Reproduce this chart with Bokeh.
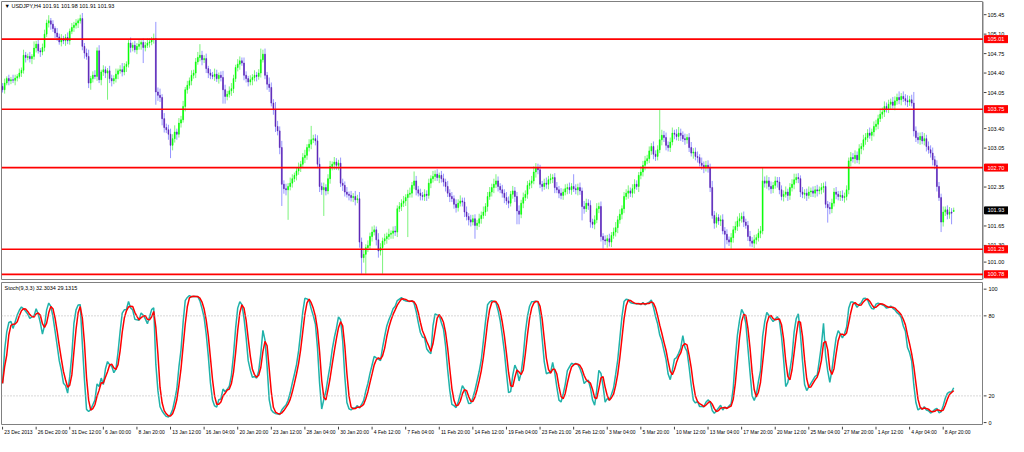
from bokeh.plotting import figure
from bokeh.layouts import column, row
from bokeh.models import ColumnDataSource, Span, Label, Range1d
from bokeh.core.properties import value
from bokeh.embed import file_html
from bokeh.resources import INLINE

# ---------------- data ----------------
symbol_header = "\u25BC USDJPY,H4  101.91 101.98 101.91 101.93"
stoch_header = "Stoch(9,3,3) 32.3034 29.1315"

first_open = 104.16
last_open = 101.91

closes = [
    104.10, 104.22, 104.30, 104.26, 104.28, 104.27, 104.31, 104.34, 104.40, 104.45,
    104.72, 104.68, 104.70, 104.66, 104.70, 104.85, 104.92, 104.80, 104.78, 104.86,
    105.10, 105.30, 105.34, 105.28, 105.20, 105.12, 105.05, 104.96, 105.02, 104.98,
    105.04, 104.98, 105.15, 105.22, 105.26, 105.30, 105.34, 105.38, 104.88, 104.76,
    104.70, 104.22, 104.30, 104.36, 104.34, 104.80, 104.28, 104.42, 104.46, 104.40,
    104.44, 104.30, 104.26, 104.30, 104.38, 104.44, 104.46, 104.42, 104.52, 104.56,
    104.94, 104.86, 104.90, 104.82, 104.88, 104.92, 104.95, 104.86, 104.90, 104.94,
    104.96, 105.00, 105.02, 104.06, 104.00, 103.96, 103.58, 103.42, 103.38, 103.30,
    103.10, 103.22, 103.34, 103.30, 103.50, 103.56, 103.80, 104.10, 104.18, 104.26,
    104.36, 104.40, 104.60, 104.68, 104.72, 104.64, 104.66, 104.48, 104.40, 104.36,
    104.34, 104.38, 104.30, 104.36, 104.32, 104.10, 103.98, 104.02, 104.08, 104.12,
    104.30, 104.50, 104.56, 104.62, 104.58, 104.36, 104.30, 104.24, 104.28, 104.32,
    104.36, 104.34, 104.40, 104.64, 104.74, 104.36, 104.20, 104.14, 103.86, 103.74,
    103.44, 103.36, 103.06, 102.40, 102.32, 102.30, 102.36, 102.42, 102.50, 102.56,
    102.64, 102.70, 102.76, 102.88, 102.92, 103.06, 103.12, 103.20, 103.22, 103.18,
    102.76, 102.36, 102.30, 102.34, 102.28, 102.50, 102.72, 102.76, 102.80, 102.74,
    102.78, 102.42, 102.38, 102.26, 102.22, 102.20, 102.16, 102.18, 102.12, 102.14,
    101.36, 101.08, 101.14, 101.26, 101.30, 101.46, 101.54, 101.58, 101.40, 101.20,
    101.26, 101.38, 101.42, 101.46, 101.50, 101.52, 101.56, 101.54, 101.96, 102.00,
    102.06, 102.10, 102.16, 102.22, 102.24, 102.38, 102.46, 102.30, 102.24, 102.20,
    102.18, 102.22, 102.20, 102.42, 102.50, 102.54, 102.58, 102.52, 102.56, 102.50,
    102.44, 102.36, 102.24, 102.18, 102.14, 102.04, 101.98, 102.06, 102.10, 102.08,
    101.90, 101.82, 101.76, 101.72, 101.78, 101.66, 101.70, 101.78, 101.84, 101.90,
    102.00, 102.18, 102.26, 102.34, 102.40, 102.46, 102.36, 102.30, 102.24, 102.16,
    102.10, 102.06, 102.22, 102.28, 102.18, 101.92, 101.86, 102.06, 102.16, 102.22,
    102.38, 102.42, 102.46, 102.62, 102.70, 102.66, 102.40, 102.36, 102.42, 102.40,
    102.48, 102.50, 102.52, 102.34, 102.30, 102.24, 102.20, 102.26, 102.32, 102.34,
    102.30, 102.36, 102.32, 102.30, 102.34, 102.28, 102.00, 101.96, 102.06, 102.02,
    101.72, 101.68, 101.76, 101.96, 102.00, 101.46, 101.40, 101.38, 101.42, 101.36,
    101.48, 101.54, 101.62, 101.76, 101.86, 101.96, 102.18, 102.24, 102.28, 102.24,
    102.32, 102.40, 102.36, 102.56, 102.62, 102.74, 102.82, 102.86, 103.00, 103.08,
    102.94, 102.90, 103.02, 103.20, 103.28, 103.24, 103.10, 103.06, 103.16, 103.32,
    103.30, 103.26, 103.32, 103.28, 103.22, 103.20, 103.24, 103.06, 102.96, 102.98,
    102.90, 102.88, 102.78, 102.74, 102.70, 102.74, 102.70, 102.34, 101.84, 101.70,
    101.80, 101.74, 101.76, 101.56, 101.50, 101.40, 101.36, 101.44, 101.58, 101.64,
    101.74, 101.78, 101.82, 101.72, 101.66, 101.46, 101.38, 101.34, 101.40, 101.44,
    101.52, 101.56, 102.46, 102.42, 102.46, 102.36, 102.32, 102.38, 102.46, 102.44,
    102.30, 102.18, 102.22, 102.26, 102.20, 102.34, 102.40, 102.48, 102.52, 102.50,
    102.26, 102.22, 102.24, 102.20, 102.26, 102.28, 102.24, 102.30, 102.28, 102.30,
    102.34, 102.36, 102.04, 101.98, 101.96, 102.06, 102.26, 102.22, 102.18, 102.20,
    102.16, 102.18, 102.30, 102.82, 102.88, 102.86, 102.92, 102.84, 103.04, 103.08,
    103.20, 103.24, 103.32, 103.28, 103.34, 103.44, 103.48, 103.58, 103.66, 103.70,
    103.80, 103.76, 103.84, 103.88, 103.82, 103.90, 103.96, 103.92, 103.98, 103.94,
    103.90, 103.88, 103.92, 103.86, 103.36, 103.24, 103.20, 103.26, 103.18, 103.22,
    103.08, 103.02, 102.96, 102.84, 102.74, 102.36, 102.16, 101.72, 101.90, 101.94,
    101.86, 101.90, 101.88, 101.93,
]

# upper / lower shadow lengths in pips (0.01 JPY)
wick_up = [
    6, 8, 4, 7, 5, 9, 6, 4, 8, 5,  10, 6, 5, 8, 4, 12, 6, 9, 5, 7,
    8, 6, 10, 5, 7, 4, 9, 6, 8, 5,  6, 9, 5, 8, 6, 7, 4, 7, 10, 6,
    8, 12, 5, 7, 9, 6, 10, 4, 8, 6,  5, 9, 7, 6, 10, 4, 8, 12, 6, 5,
    7, 10, 5, 8, 6, 9, 4, 7, 6, 8,  6, 5, 9, 30, 8, 12, 6, 10, 7, 9,
    10, 8, 12, 6, 9, 7, 10, 5, 8, 6,  9, 6, 7, 10, 20, 8, 6, 9, 5, 7,
    6, 10, 8, 5, 7, 12, 9, 6, 8, 10,  7, 5, 9, 8, 6, 10, 7, 5, 8, 6,
    9, 6, 7, 20, 8, 10, 6, 12, 9, 7,  14, 10, 8, 12, 7, 9, 6, 10, 8, 5,
    7, 9, 6, 8, 10, 6, 9, 25, 7, 8,  10, 12, 7, 9, 6, 8, 10, 5, 9, 7,
    6, 10, 8, 7, 9, 5, 8, 6, 10, 7,  12, 8, 10, 6, 9, 7, 10, 8, 6, 12,
    8, 6, 9, 7, 10, 5, 8, 9, 6, 8,  7, 9, 6, 8, 10, 6, 17, 9, 7, 8,
    6, 9, 7, 8, 6, 10, 7, 9, 5, 8,  9, 6, 10, 7, 8, 6, 9, 7, 10, 6,
    8, 10, 6, 9, 7, 8, 6, 9, 7, 10,  6, 8, 9, 7, 10, 12, 8, 6, 9, 7,
    10, 8, 6, 9, 7, 8, 10, 6, 9, 7,  8, 6, 9, 10, 8, 7, 9, 6, 8, 10,
    7, 9, 6, 8, 10, 7, 9, 6, 8, 7,  9, 6, 22, 8, 7, 9, 6, 10, 8, 7,
    9, 6, 8, 10, 7, 9, 6, 8, 7, 9,  6, 8, 10, 7, 9, 6, 8, 7, 10, 6,
    8, 9, 7, 6, 10, 8, 9, 7, 8, 6,  9, 7, 8, 54, 10, 8, 9, 7, 8, 10,
    6, 9, 11, 8, 7, 9, 6, 8, 10, 7,  8, 9, 6, 10, 7, 8, 9, 7, 12, 8,
    9, 6, 8, 10, 7, 9, 6, 8, 7, 9,  8, 10, 7, 9, 6, 8, 10, 7, 9, 6,
    8, 9, 24, 8, 10, 7, 9, 6, 8, 7,  9, 8, 7, 10, 6, 8, 9, 11, 7, 8,
    6, 9, 7, 8, 10, 6, 8, 7, 9, 6,  8, 7, 9, 6, 10, 8, 7, 9, 6, 8,
    9, 7, 8, 6, 10, 8, 9, 7, 8, 6,  9, 8, 7, 10, 6, 9, 8, 7, 10, 8,
    9, 7, 8, 6, 9, 8, 7, 11, 6, 9,  8, 10, 7, 9, 20, 8, 9, 7, 8, 10,
    7, 9, 8, 10, 7, 9, 8, 7, 10, 6,  8, 9, 7, 5,
]
wick_dn = [
    5, 7, 4, 8, 6, 5, 9, 6, 4, 7,  6, 9, 5, 7, 10, 6, 8, 5, 9, 6,
    7, 5, 8, 10, 6, 9, 7, 5, 8, 6,  9, 6, 7, 5, 8, 6, 9, 5, 7, 10,
    6, 9, 12, 7, 5, 8, 6, 10, 7, 9,  48, 8, 10, 6, 7, 9, 5, 8, 6, 10,
    6, 9, 7, 5, 8, 6, 10, 28, 7, 5,  8, 6, 7, 23, 10, 8, 12, 9, 6, 10,
    23, 9, 7, 10, 6, 8, 5, 9, 7, 6,  8, 6, 9, 5, 7, 10, 6, 8, 9, 7,
    5, 8, 6, 9, 7, 25, 13, 7, 6, 9,  8, 6, 7, 10, 5, 9, 7, 8, 6, 10,
    7, 9, 6, 8, 5, 7, 10, 8, 6, 9,  10, 8, 12, 39, 9, 10, 54, 7, 8, 6,
    9, 7, 8, 6, 10, 8, 7, 9, 6, 8,  7, 10, 9, 47, 8, 6, 9, 7, 10, 8,
    9, 7, 10, 8, 6, 9, 7, 8, 10, 6,  10, 29, 9, 35, 8, 7, 9, 6, 10, 12,
    8, 47, 7, 9, 6, 8, 10, 7, 9, 6,  8, 7, 9, 71, 6, 8, 7, 10, 6, 9,
    7, 8, 10, 6, 9, 7, 8, 6, 10, 7,  8, 9, 7, 10, 6, 8, 9, 7, 6, 8,
    9, 7, 10, 8, 6, 24, 8, 7, 9, 6,  7, 9, 6, 8, 10, 7, 9, 6, 8, 10,
    7, 9, 6, 8, 10, 24, 18, 7, 9, 6,  8, 7, 9, 6, 10, 8, 7, 9, 6, 8,
    9, 7, 8, 10, 6, 9, 7, 8, 6, 10,  7, 9, 6, 8, 10, 7, 25, 9, 6, 8,
    10, 7, 9, 6, 8, 9, 16, 7, 12, 8,  9, 6, 8, 10, 7, 9, 8, 6, 10, 7,
    8, 9, 6, 10, 7, 8, 9, 6, 8, 7,  9, 8, 7, 6, 10, 8, 9, 7, 8, 6,
    9, 7, 8, 10, 6, 9, 7, 8, 6, 10,  7, 9, 6, 8, 10, 7, 9, 8, 6, 10,
    8, 7, 9, 6, 26, 8, 7, 12, 9, 6,  8, 10, 7, 9, 6, 8, 10, 7, 9, 8,
    7, 9, 6, 8, 10, 7, 9, 8, 6, 10,  8, 7, 9, 6, 10, 8, 7, 9, 6, 8,
    9, 7, 8, 10, 6, 9, 7, 8, 10, 6,  8, 9, 7, 27, 10, 8, 6, 9, 7, 8,
    6, 9, 7, 8, 10, 7, 9, 6, 8, 10,  7, 9, 8, 6, 10, 8, 7, 9, 6, 8,
    9, 7, 8, 10, 6, 9, 7, 8, 10, 6,  8, 9, 7, 6, 10, 8, 7, 9, 6, 8,
    9, 7, 8, 10, 7, 9, 6, 18, 8, 7,  9, 8, 20, 0,
]

levels = [105.01, 103.75, 102.70, 101.23, 100.78]
current_price = 101.93
price_ticks = [105.45, 105.10, 104.75, 104.40, 104.05, 103.40, 103.05,
               102.35, 101.65, 101.30, 101.00]
stoch_ticks = [0, 20, 80, 100]
stoch_levels = [20, 80]
date_labels = ["23 Dec 2013", "26 Dec 20:00", "31 Dec 12:00", "6 Jan 00:00",
               "8 Jan 20:00", "13 Jan 12:00", "16 Jan 04:00", "20 Jan 20:00",
               "23 Jan 12:00", "28 Jan 04:00", "30 Jan 20:00", "4 Feb 12:00",
               "7 Feb 04:00", "11 Feb 20:00", "14 Feb 12:00", "19 Feb 04:00",
               "23 Feb 21:00", "26 Feb 12:00", "3 Mar 04:00", "5 Mar 20:00",
               "10 Mar 12:00", "13 Mar 04:00", "17 Mar 20:00", "20 Mar 12:00",
               "25 Mar 04:00", "27 Mar 20:00", "1 Apr 12:00", "4 Apr 04:00",
               "8 Apr 20:00"]
bars_per_label = 16

# ---------------- derived OHLC + stochastic ----------------
n = min(len(closes), len(wick_up), len(wick_dn))
closes = closes[:n]
opens = [first_open] + closes[:-1]
opens[-1] = last_open
highs = [max(opens[i], closes[i]) + wick_up[i] / 100 for i in range(n)]
lows = [min(opens[i], closes[i]) - wick_dn[i] / 100 for i in range(n)]
xs = list(range(n))

def cds(idx):
    return ColumnDataSource(dict(
        x=[xs[i] for i in idx],
        top=[max(opens[i], closes[i]) for i in idx],
        bottom=[min(opens[i], closes[i]) for i in idx],
        high=[highs[i] for i in idx],
        low=[lows[i] for i in idx]))

up_idx = [i for i in range(n) if closes[i] >= opens[i]]
dn_idx = [i for i in range(n) if closes[i] < opens[i]]
up_src, dn_src = cds(up_idx), cds(dn_idx)

K, SLOW, D = 9, 3, 3
main_line = []
for i in range(n):
    num = den = 0.0
    for j in range(max(0, i - SLOW + 1), i + 1):
        lo = min(lows[max(0, j - K + 1):j + 1])
        hi = max(highs[max(0, j - K + 1):j + 1])
        num += closes[j] - lo
        den += hi - lo
    main_line.append(100 * num / den if den > 0 else 50.0)
signal_line = []
for i in range(n):
    w = main_line[max(0, i - D + 1):i + 1]
    signal_line.append(sum(w) / len(w))
stoch_src = ColumnDataSource(dict(x=xs, main=main_line, signal=signal_line))

# ---------------- layout constants ----------------
FONT = "Liberation Sans"
FS = "5.5px"
FS_DATE = "5px"
FW = 982          # plot-area width
AW = 25           # price-scale strip width
MAIN_H = 278
STOCH_H = 143
DATE_H = 11
X0 = -0.5
X1 = X0 + 999 / 2.136
xr = Range1d(X0, X1)
px_x = (X1 - X0) / FW

P_LO, P_HI = 100.687, 105.687
S_LO, S_HI = -2.2, 105.0
py = (P_HI - P_LO) / MAIN_H
sy = (S_HI - S_LO) / STOCH_H
main_yr = Range1d(P_LO, P_HI)
stoch_yr = Range1d(S_LO, S_HI)

def base(**kw):
    f = figure(output_backend="svg", toolbar_location=None,
               x_axis_location=None, y_axis_location=None, **kw)
    f.grid.visible = False
    f.background_fill_color = "white"
    f.border_fill_color = "white"
    return f

# main price panel
p = base(frame_width=FW, frame_height=MAIN_H, x_range=xr, y_range=main_yr,
         min_border_left=1, min_border_right=0, min_border_top=1, min_border_bottom=1)
p.outline_line_color = "#808080"

# price-scale strip (shares the price scale)
pr = base(frame_width=AW, frame_height=MAIN_H, x_range=Range1d(0, AW), y_range=main_yr,
          min_border_left=0, min_border_right=0, min_border_top=1, min_border_bottom=1)
pr.outline_line_color = None

# stochastic panel
s = base(frame_width=FW, frame_height=STOCH_H, x_range=xr, y_range=stoch_yr,
         min_border_left=1, min_border_right=0, min_border_top=2, min_border_bottom=0)
s.outline_line_color = "#808080"

sr = base(frame_width=AW, frame_height=STOCH_H, x_range=Range1d(0, AW), y_range=stoch_yr,
          min_border_left=0, min_border_right=0, min_border_top=2, min_border_bottom=0)
sr.outline_line_color = None

# date strip (shares the bar scale)
d = base(frame_width=FW, frame_height=DATE_H, x_range=xr, y_range=Range1d(0, DATE_H),
         min_border_left=1, min_border_right=0, min_border_top=0, min_border_bottom=0)
d.outline_line_color = None
dpad = base(frame_width=AW, frame_height=DATE_H, x_range=Range1d(0, AW),
            y_range=Range1d(0, DATE_H), min_border_left=0, min_border_right=0,
            min_border_top=0, min_border_bottom=0)
dpad.outline_line_color = None

# ---------------- candles ----------------
BULL, BULL_W = "#00ff00", "#44ee44"
BEAR, BEAR_W = "#5a22b4", "#6a6aff"
p.segment(x0="x", y0="low", x1="x", y1="high", source=up_src, line_color=BULL_W,
          line_width=1, line_alpha=0.7)
p.segment(x0="x", y0="low", x1="x", y1="high", source=dn_src, line_color=BEAR_W,
          line_width=1, line_alpha=0.7)
p.vbar(x="x", width=0.4, top="top", bottom="bottom", source=up_src,
       fill_color=BULL, line_color=BULL, line_width=0.6)
p.vbar(x="x", width=0.4, top="top", bottom="bottom", source=dn_src,
       fill_color=BEAR, line_color=BEAR, line_width=0.6)

for lv in levels:
    p.add_layout(Span(location=lv, dimension="width", line_color="#ff0000",
                      line_width=1.6))
p.add_layout(Label(x=X0 + 3 * px_x, y=P_HI - 1.5 * py, text=symbol_header,
                   text_align="left", text_baseline="top", text_color="black",
                   text_font=FONT, text_font_size=FS))

# ---------------- price scale ----------------
TICK_LEN = 3
pt_src = ColumnDataSource(dict(y=price_ticks, txt=[f"{t:.2f}" for t in price_ticks]))
pr.segment(x0=0, y0="y", x1=TICK_LEN, y1="y", source=pt_src, line_color="#404040",
           line_width=1)
pr.text(x=TICK_LEN + 1, y="y", text="txt", source=pt_src, text_align="left",
        text_baseline="middle", text_color="black", text_font=value(FONT),
        text_font_size=value(FS))

tag_h = 7 * py
tag_src = ColumnDataSource(dict(
    y=levels + [current_price],
    top=[v + tag_h / 2 for v in levels + [current_price]],
    bottom=[v - tag_h / 2 for v in levels + [current_price]],
    color=["#ff0000"] * len(levels) + ["#000000"],
    txt=[f"{v:.2f}" for v in levels + [current_price]]))
pr.quad(left=1, right=AW, top="top", bottom="bottom", source=tag_src,
        fill_color="color", line_color="color")
pr.text(x=TICK_LEN + 1, y="y", text="txt", source=tag_src, text_align="left",
        text_baseline="middle", text_color="white", text_font=value(FONT),
        text_font_size=value(FS))
pr.segment(x0=0, y0=P_LO, x1=0, y1=P_HI, line_color="#808080", line_width=1)

# ---------------- stochastic ----------------
for lv in stoch_levels:
    s.add_layout(Span(location=lv, dimension="width", line_color="#b0b0b0",
                      line_width=1, line_dash="1 2"))
s.line(x="x", y="main", source=stoch_src, line_color="#20b2aa", line_width=1.5)
s.line(x="x", y="signal", source=stoch_src, line_color="#ff0000", line_width=1.5)
s.add_layout(Label(x=X0 + 3 * px_x, y=S_HI - 2.5 * sy, text=stoch_header,
                   text_align="left", text_baseline="top", text_color="black",
                   text_font=FONT, text_font_size=FS))

st_src = ColumnDataSource(dict(y=stoch_ticks, txt=[str(t) for t in stoch_ticks]))
sr.segment(x0=0, y0="y", x1=TICK_LEN, y1="y", source=st_src, line_color="#404040",
           line_width=1)
sr.text(x=TICK_LEN + 2, y="y", text="txt", source=st_src, text_align="left",
        text_baseline="middle", text_color="black", text_font=value(FONT),
        text_font_size=value(FS))

# ---------------- time scale ----------------
tick_bars = [k * bars_per_label for k in range(len(date_labels))]
dt_src = ColumnDataSource(dict(x=tick_bars, lx=[t + 0.8 for t in tick_bars],
                               txt=date_labels))
d.segment(x0="x", y0=DATE_H, x1="x", y1=DATE_H - 3, source=dt_src,
          line_color="#404040", line_width=1)
d.text(x="lx", y=DATE_H - 2.5, text="txt", source=dt_src, text_align="left",
       text_baseline="top", text_color="black", text_font=value(FONT),
       text_font_size=value(FS_DATE))

layout = column(row(p, pr, spacing=0), row(s, sr, spacing=0), row(d, dpad, spacing=0),
                spacing=0)
open("out.html", "w").write(file_html(layout, INLINE, title="USDJPY,H4"))
